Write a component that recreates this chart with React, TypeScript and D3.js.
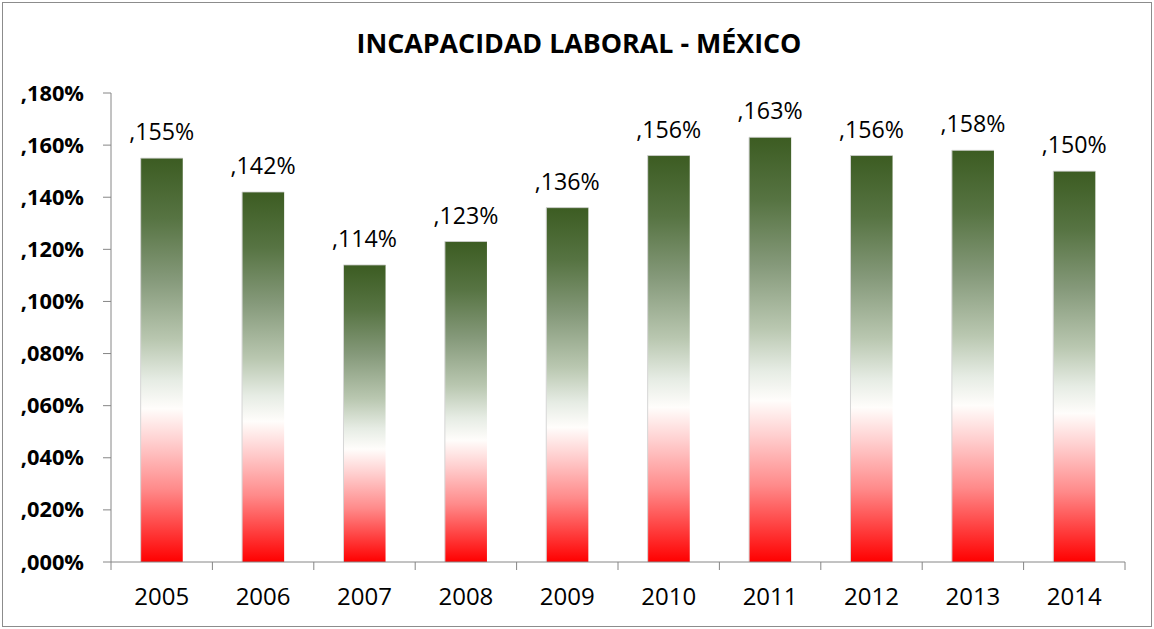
import React from "react";
import * as d3 from "d3";

const years = ["2005", "2006", "2007", "2008", "2009", "2010", "2011", "2012", "2013", "2014"];
const values = [0.155, 0.142, 0.114, 0.123, 0.136, 0.156, 0.163, 0.156, 0.158, 0.150];
const yTicks = [0, 0.02, 0.04, 0.06, 0.08, 0.1, 0.12, 0.14, 0.16, 0.18];
const title = "INCAPACIDAD LABORAL - MÉXICO";

const W = 1154;
const H = 629;
const left = 111;
const right = 1125;
const top = 93;
const bottom = 562;
const FONT = "'Open Sans', sans-serif";

const fmt = (v: number) => "," + d3.format("03d")(Math.round(v * 1000)) + "%";

export default function App() {
  const x = d3.scaleBand<string>().domain(years).range([left, right]).paddingInner(0).paddingOuter(0);
  const y = d3.scaleLinear().domain([0, 0.18]).range([bottom, top]);
  const bw = x.bandwidth() * 0.415;
  const boundaries = d3.range(years.length + 1).map((i) => left + i * x.step());

  return (
    <svg width={W} height={H} style={{ position: "absolute", left: 0, top: 0, background: "#fff" }}>
      <defs>
        <linearGradient id="mx" x1="0" y1="0" x2="0" y2="1">
          <stop offset="0" stopColor="#3c5c22" />
          <stop offset="0.15" stopColor="#577443" />
          <stop offset="0.3" stopColor="#85997a" />
          <stop offset="0.45" stopColor="#b9c7b0" />
          <stop offset="0.55" stopColor="#e6ece4" />
          <stop offset="0.62" stopColor="#fffdfb" />
          <stop offset="0.7" stopColor="#ffd0d0" />
          <stop offset="0.82" stopColor="#ff8a8a" />
          <stop offset="1" stopColor="#ff0000" />
        </linearGradient>
      </defs>
      <rect x={2.5} y={2.5} width={1149} height={624} fill="#fff" stroke="#8c8c8c" strokeWidth={1} />
      <text x={579} y={53} textAnchor="middle" fontFamily={FONT} fontWeight={700} fontSize={26.8} fill="#000">
        {title}
      </text>
      {/* Y axis */}
      <line x1={left} x2={left} y1={top} y2={bottom} stroke="#868686" strokeWidth={1} />
      {yTicks.map((t) => (
        <g key={t}>
          <line x1={left - 8} x2={left} y1={y(t)} y2={y(t)} stroke="#868686" />
          <text x={84} y={y(t) + 7.5} textAnchor="end" fontFamily={FONT} fontWeight={700} fontSize={21.8} fill="#000">
            {fmt(t)}
          </text>
        </g>
      ))}
      {/* bars */}
      {years.map((yr, i) => {
        const cx = (x(yr) as number) + x.bandwidth() / 2;
        const v = values[i];
        return (
          <g key={yr}>
            <rect x={cx - bw / 2} y={y(v)} width={bw} height={bottom - y(v)} fill="url(#mx)" />
            <line x1={cx - bw / 2} x2={cx - bw / 2} y1={y(v)} y2={bottom} stroke="#d6d6d6" strokeWidth={1} />
            <line x1={cx - bw / 2} x2={cx + bw / 2} y1={y(v)} y2={y(v)} stroke="#d0d0d0" strokeWidth={0.8} />
            <text x={cx} y={y(v) - 18} textAnchor="middle" fontFamily={FONT} fontSize={23.2} fill="#000">
              {fmt(v)}
            </text>
            <text x={cx} y={605} textAnchor="middle" fontFamily={FONT} fontSize={24} fill="#000">
              {yr}
            </text>
          </g>
        );
      })}
      {/* X axis */}
      <line x1={left} x2={right} y1={bottom} y2={bottom} stroke="#868686" strokeWidth={1} />
      {boundaries.map((bx, i) => (
        <line key={i} x1={bx} x2={bx} y1={bottom} y2={bottom + 8} stroke="#868686" />
      ))}
    </svg>
  );
}
